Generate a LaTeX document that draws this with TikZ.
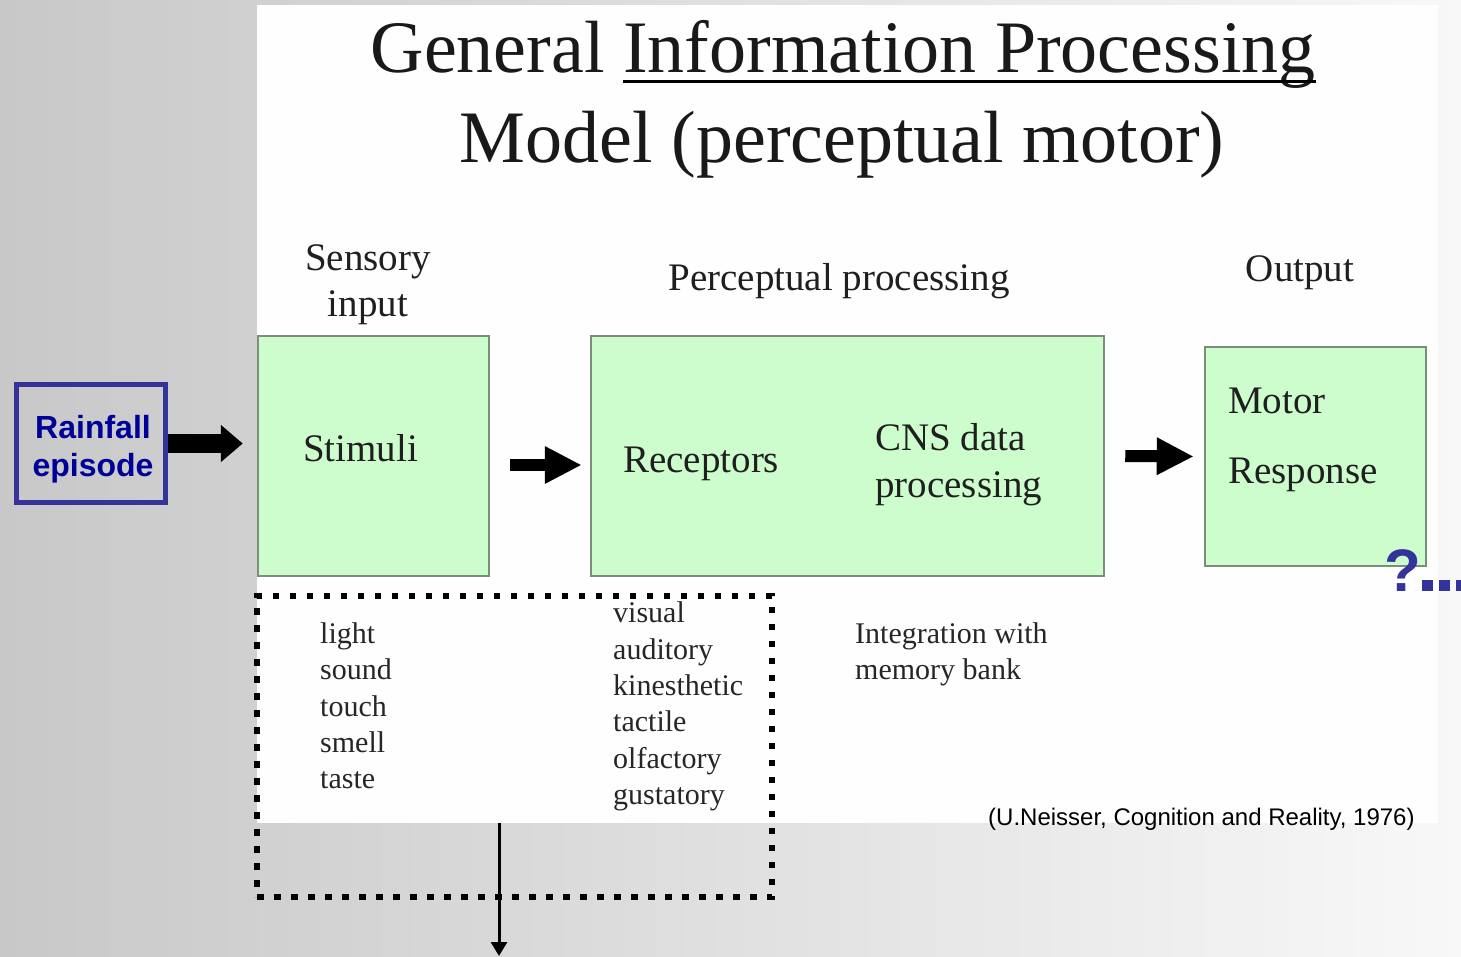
\documentclass[tikz,border=0pt]{standalone}
\usepackage{xcolor}
\usepackage{fontspec}
\setmainfont{Liberation Serif}
\newfontfamily\arialfont{Liberation Sans}
\usetikzlibrary{positioning,arrows.meta}

\definecolor{bgleft}{HTML}{C8C8C8}
\definecolor{bgright}{HTML}{F8F8F8}
\definecolor{boxgreen}{HTML}{CDFDCD}
\definecolor{boxedge}{HTML}{7A8F7A}
\definecolor{slideblue}{HTML}{333399}
\definecolor{textblue}{HTML}{000099}

\begin{document}
\begin{tikzpicture}[x=1pt, y=1pt,
  titletext/.style={font=\fontsize{74}{80}\selectfont, text=black!90, inner sep=0pt},
  headtext/.style={font=\fontsize{39}{44}\selectfont, text=black!88, inner sep=0pt},
  listtext/.style={font=\fontsize{30}{34}\selectfont, text=black!85, inner sep=0pt, anchor=base west},
  greenbox/.style={draw=boxedge, line width=2.5pt, fill=boxgreen, inner sep=0pt},
  blockarrow/.style={line width=12pt, -{Triangle[length=37pt, width=35pt]}},
  dotbox/.style={draw, line width=6.5pt, dash pattern=on 6.5pt off 10.5pt, inner sep=0pt}]

  % slide background and pasted figure
  \shade[left color=bgleft, right color=bgright] (0,0) rectangle (1461,-956);
  \useasboundingbox (0,0) rectangle (1461,-956);
  \fill[white!99!gray] (257,-5) rectangle (1438,-823);

  % Title
  \node[titletext, anchor=base west] (titleB) at (623,-72) {Information Processing};
  \node[titletext, anchor=base east] (titleA) at ([xshift=-18pt]titleB.base west) {General};
  \draw[line width=3pt] ([yshift=-9pt]titleB.base west) -- ([yshift=-9pt]titleB.base east);
  \node[titletext, anchor=base] (titleC) at (842,-162) {Model (perceptual motor)};

  % Stage headings
  \node[headtext, anchor=base] (sensory) at (368,-270) {Sensory};
  \node[headtext, anchor=base] (input) at (368,-316) {input};
  \node[headtext, anchor=base] (percept) at (839,-290) {Perceptual processing};
  \node[headtext, anchor=base] (output) at (1300,-281) {Output};

  % Green boxes
  \node[greenbox, minimum width=231pt, minimum height=240pt] (stimuli) at (373.5,-456) {};
  \node[greenbox, minimum width=513pt, minimum height=240pt] (receptors) at (847.5,-456) {};
  \node[greenbox, minimum width=221pt, minimum height=219pt] (motor) at (1315.5,-456.5) {};

  \node[headtext, anchor=base west] (stimtext) at (303,-461) {Stimuli};
  \node[headtext, anchor=base west] (rectext) at (623,-472) {Receptors};
  \node[headtext, anchor=base west] (cnstext) at (875,-450) {CNS data};
  \node[headtext, anchor=base west] (proctext) at (875,-497) {processing};
  \node[headtext, anchor=base west] (motortext) at (1228,-413) {Motor};
  \node[headtext, anchor=base west] (resptext) at (1228,-483) {Response};

  % Block arrows
  \draw[blockarrow] ([shift={(20pt,-9pt)}]stimuli.east) -- ([shift={(-8pt,-9pt)}]receptors.west);
  \draw[blockarrow] ([xshift=20pt]receptors.east) -- ([xshift=-10pt]motor.west);

  % Rainfall episode
  \node[draw=slideblue, line width=5pt, minimum width=149pt, minimum height=118pt, inner sep=0pt] (rain) at (91,-443.5) {};
  \node[align=center, text=textblue, inner sep=0pt,
        font=\arialfont\bfseries\fontsize{32}{38}\selectfont] (raintext) at (93,-449) {Rainfall\\episode};
  \draw[line width=19pt, -{Triangle[length=22pt, width=36pt]}] (rain.east) -- ([xshift=-14pt]stimuli.west |- rain.east);

  % Senses list
  \node[dotbox, minimum width=515pt, minimum height=301pt] (senses) at (514.5,-746.5) {};
  \foreach \word/\yy in {light/643, sound/679, touch/716, smell/752, taste/788}
    \node[listtext] (in-\word) at (320,-\yy) {\word};
  \foreach \word/\yy in {visual/622, auditory/659, kinesthetic/695, tactile/731, olfactory/768, gustatory/804}
    \node[listtext] (sys-\word) at (613,-\yy) {\word};

  \node[listtext] (integ) at (855,-643) {Integration with};
  \node[listtext] (memory) at (855,-679) {memory bank};

  \node[font=\arialfont\fontsize{24}{28}\selectfont, anchor=base west, inner sep=0pt] (cite) at (988,-825)
    {(U.Neisser, Cognition and Reality, 1976)};

  % Question and trailing dots
  \node[font=\arialfont\bfseries\fontsize{60}{60}\selectfont, text=slideblue, anchor=base west, inner sep=0pt] (query) at (1384,-591) {?};
  \coordinate (rimright) at (1461,-585.5);
  \draw[slideblue, line width=11pt, dash pattern=on 11pt off 6pt] (query.base east |- rimright) ++(1pt,0) -- (rimright);

  % Downward arrow
  \coordinate (drop) at (499,-823);
  \coordinate (ground) at (499,-956);
  \draw[line width=3pt, -{Triangle[length=14pt, width=16pt]}] (drop) -- (ground);

\end{tikzpicture}
\end{document}
